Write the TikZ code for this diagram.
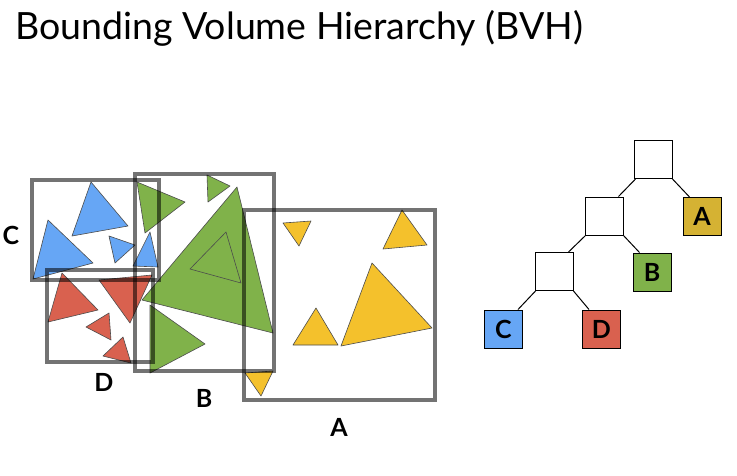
\documentclass[tikz,border=0pt]{standalone}
\usepackage{fontspec}
\setmainfont{Lato}
\definecolor{cblue}{HTML}{66A6F5}
\definecolor{cred}{HTML}{D9614F}
\definecolor{cgreen}{HTML}{80B24A}
\definecolor{cyellow}{HTML}{F4C12C}
\definecolor{tA}{HTML}{D5B233}
\begin{document}
\begin{tikzpicture}[x=1pt,y=-1pt,
  tri/.style={draw=black!70,line width=0.6pt,line join=round},
  bvbox/.style={draw=black,opacity=0.55,line width=4pt},
  boxlabel/.style={font=\bfseries\fontsize{25}{28}\selectfont},
  tnode/.style={draw=black,line width=1pt,minimum size=38pt,inner sep=0pt,font=\bfseries\fontsize{25}{27}\selectfont},
  tedge/.style={draw=black,line width=1pt}]
\useasboundingbox[fill=white] (0,0) rectangle (737,475);
% title
\node[anchor=base west,inner sep=0pt,font=\fontsize{37.5}{42}\selectfont] (title) at (15,39) {Bounding Volume Hierarchy (BVH)};
% blue triangles (C)
\fill[cblue,tri] (91,182) -- (72,236) -- (128,226) -- cycle;
\fill[cblue,tri] (48,220) -- (33,279) -- (93,263) -- cycle;
\fill[cblue,tri] (109,236) -- (115,263) -- (135,245) -- cycle;
\fill[cblue,tri] (150,232) -- (133,266) -- (158,267) -- cycle;
% red triangles (D)
\fill[cred,tri] (62,273) -- (48,322) -- (98,310) -- cycle;
\fill[cred,tri] (99,280) -- (152,275) -- (130,323) -- cycle;
\fill[cred,tri] (109,313) -- (86,327) -- (111,340) -- cycle;
\fill[cred,tri] (123,337) -- (103,356) -- (131,363) -- cycle;
% green triangles (B)
\fill[cgreen,tri] (137,182) -- (185,202) -- (145,233) -- cycle;
\fill[cgreen,tri] (207,175) -- (230,186) -- (208,202) -- cycle;
\fill[cgreen,tri] (237,187) -- (142,300) -- (273,333) -- cycle;
\fill[cgreen,tri] (226,232) -- (190,269) -- (241,283) -- cycle;
\fill[cgreen,tri] (150,305) -- (205,344) -- (150,373) -- cycle;
% yellow triangles (A)
\fill[cyellow,tri] (283,223) -- (311,221) -- (299,246) -- cycle;
\fill[cyellow,tri] (402,210) -- (383,249) -- (427,245) -- cycle;
\fill[cyellow,tri] (316,308) -- (293,345) -- (338,345) -- cycle;
\fill[cyellow,tri] (372,263) -- (341,346) -- (432,328) -- cycle;
\fill[cyellow,tri] (245,373) -- (273,371) -- (261,396) -- cycle;
% bounding boxes
\draw[bvbox] (32,180) rectangle (159,280);
\draw[bvbox] (47,270) rectangle (153,362);
\draw[bvbox] (135,174) rectangle (274,371);
\draw[bvbox] (244,210) rectangle (435,400);
% box labels
\node[boxlabel] (labC) at (11,235) {C};
\node[boxlabel] (labD) at (104,382) {D};
\node[boxlabel] (labB) at (204,398) {B};
\node[boxlabel] (labA) at (339,427) {A};
% tree
\node[tnode] (root) at (653,159.5) {};
\node[tnode] (n2) at (604,216) {};
\node[tnode,fill=tA] (tA) at (702,216.5) {A};
\node[tnode] (n3) at (554,271.5) {};
\node[tnode,fill=cgreen] (tB) at (652,272) {B};
\node[tnode,fill=cblue] (tC) at (503.5,329) {C};
\node[tnode,fill=cred] (tD) at (601.5,329) {D};
\draw[tedge] ([xshift=2pt]root.south west) -- ([xshift=-5pt]n2.north east);
\draw[tedge] (root.south east) -- ([xshift=7pt]tA.north west);
\draw[tedge] ([xshift=1pt]n2.south west) -- ([xshift=-5pt]n3.north east);
\draw[tedge] (n2.south east) -- ([xshift=7pt]tB.north west);
\draw[tedge] ([xshift=1pt]n3.south west) -- ([xshift=-5pt]tC.north east);
\draw[tedge] (n3.south east) -- ([xshift=7pt]tD.north west);
\end{tikzpicture}
\end{document}
